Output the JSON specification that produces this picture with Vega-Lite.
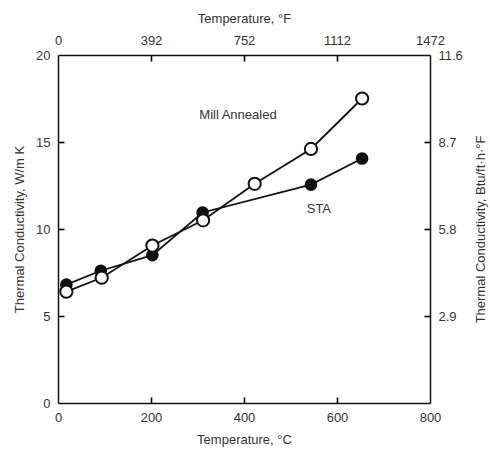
{
  "$schema": "https://vega.github.io/schema/vega-lite/v6.json",
  "autosize": "none",
  "width": 372,
  "height": 348,
  "padding": {"left": 58, "top": 55, "right": 60, "bottom": 51},
  "background": "white",
  "config": {
    "view": {"stroke": null},
    "font": "Liberation Sans",
    "axis": {
      "grid": false,
      "domainColor": "#111",
      "domainWidth": 1.5,
      "labelPadding": 8,
      "labelFontSize": 13,
      "labelColor": "#333",
      "titleFontSize": 13,
      "titleFontWeight": "normal",
      "titleColor": "#333",
      "titlePadding": 9,
      "labelFlush": false,
      "labelOverlap": false
    }
  },
  "datasets": {
    "pts": [
      {"series": "STA", "temp": 18, "k": 6.8},
      {"series": "STA", "temp": 92, "k": 7.6},
      {"series": "STA", "temp": 203, "k": 8.5},
      {"series": "STA", "temp": 311, "k": 10.95},
      {"series": "STA", "temp": 544, "k": 12.55},
      {"series": "STA", "temp": 654, "k": 14.05},
      {"series": "Mill Annealed", "temp": 18, "k": 6.4},
      {"series": "Mill Annealed", "temp": 94, "k": 7.2},
      {"series": "Mill Annealed", "temp": 203, "k": 9.05},
      {"series": "Mill Annealed", "temp": 312, "k": 10.5},
      {"series": "Mill Annealed", "temp": 423, "k": 12.6},
      {"series": "Mill Annealed", "temp": 544, "k": 14.6},
      {"series": "Mill Annealed", "temp": 654, "k": 17.5}
    ],
    "labels": [
      {"text": "Mill Annealed", "temp": 387, "k": 16.55},
      {"text": "STA", "temp": 561, "k": 11.15}
    ]
  },
  "layer": [
    {
      "data": {"name": "pts"},
      "mark": {"type": "line", "color": "#111", "strokeWidth": 1.8},
      "encoding": {
        "x": {"field": "temp", "type": "quantitative", "scale": {"domain": [0, 800]},
              "axis": {"orient": "bottom", "values": [0, 200, 400, 600, 800], "title": "Temperature, °C", "ticks": false}},
        "y": {"field": "k", "type": "quantitative", "scale": {"domain": [0, 20]},
              "axis": {"orient": "left", "values": [0, 5, 10, 15, 20], "title": "Thermal Conductivity, W/m K", "ticks": false}},
        "detail": {"field": "series"},
        "order": {"field": "temp"}
      }
    },
    {
      "data": {"name": "pts"},
      "transform": [{"filter": "datum.series == 'STA'"}],
      "mark": {"type": "point", "shape": "circle", "filled": true, "size": 160, "color": "#111", "opacity": 1},
      "encoding": {
        "x": {"field": "temp", "type": "quantitative",
              "axis": {"orient": "top", "offset": -348, "values": [200, 400, 600], "labels": false, "title": null, "domain": false, "ticks": true, "tickSize": 6, "tickColor": "black", "tickWidth": 1.6, "tickOpacity": 1}},
        "y": {"field": "k", "type": "quantitative",
              "axis": {"orient": "right", "offset": -372, "values": [5, 10, 15], "labels": false, "title": null, "domain": false, "ticks": true, "tickSize": 6, "tickColor": "black", "tickWidth": 1.6, "tickOpacity": 1}}
      }
    },
    {
      "data": {"name": "pts"},
      "transform": [{"filter": "datum.series == 'Mill Annealed'"}],
      "mark": {"type": "point", "shape": "circle", "filled": true, "size": 150, "fill": "white", "stroke": "#111", "strokeWidth": 2, "opacity": 1},
      "encoding": {
        "x": {"field": "temp", "type": "quantitative",
              "axis": {"orient": "bottom", "offset": -348, "values": [200, 400, 600], "labels": false, "title": null, "domain": false, "ticks": true, "tickSize": 6, "tickColor": "black", "tickWidth": 1.6, "tickOpacity": 1}},
        "y": {"field": "k", "type": "quantitative",
              "axis": {"orient": "left", "offset": -372, "values": [5, 10, 15], "labels": false, "title": null, "domain": false, "ticks": true, "tickSize": 6, "tickColor": "black", "tickWidth": 1.6, "tickOpacity": 1}}
      }
    },
    {
      "data": {"name": "labels"},
      "mark": {"type": "text", "fontSize": 13, "color": "#333", "font": "Liberation Sans"},
      "encoding": {
        "x": {"field": "temp", "type": "quantitative", "axis": null},
        "y": {"field": "k", "type": "quantitative", "axis": null},
        "text": {"field": "text"}
      }
    },
    {
      "data": {"name": "pts"},
      "mark": {"type": "point", "opacity": 0},
      "encoding": {
        "x": {"field": "temp", "type": "quantitative",
              "axis": {"orient": "top", "values": [0, 200, 400, 600, 800], "title": "Temperature, °F", "ticks": false,
                       "labelExpr": "datum.value == 0 ? '0' : format(datum.value * 1.8 + 32, 'd')"}},
        "y": {"field": "k", "type": "quantitative",
              "axis": {"orient": "right", "values": [5, 10, 15, 20], "title": "Thermal Conductivity, Btu/ft·h·°F", "ticks": false,
                       "titleAngle": -90, "titleBaseline": "top", "titlePadding": 12,
                       "labelExpr": "format(datum.value * 0.578, '.1f')"}}
      }
    }
  ],
  "resolve": {"axis": {"x": "independent", "y": "independent"}}
}
